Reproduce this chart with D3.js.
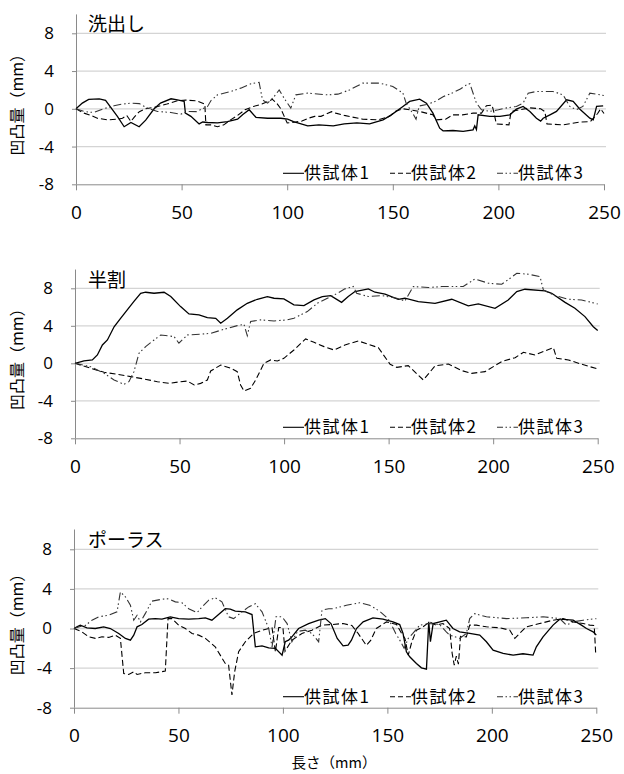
<!DOCTYPE html>
<html>
<head>
<meta charset="utf-8">
<script src="https://cdn.jsdelivr.net/npm/d3@7"></script>
<style>
  body { margin: 0; background: #fff; }
  svg text { font-family: "Open Sans", "Noto Sans CJK JP", sans-serif; fill: #000; }
  .jp { font-family: "Noto Sans CJK JP", sans-serif; }
</style>
</head>
<body>
<div id="chart"></div>
<script>
// x ticks / y ticks shared by all panels
var xTicks = [0, 50, 100, 150, 200, 250];
var yTicks = [-8, -4, 0, 4, 8];
var gridTicks = [-4, 0, 4, 8];
var seriesNames = ["供試体1", "供試体2", "供試体3"];
var panelTitles = ["洗出し", "半割", "ポーラス"];

// 洗出し  [長さ, 凹凸量]
var wash1 = [[0,0],[3,0.6],[6,1.0],[11,1.05],[14,0.9],[19.6,-0.8],[22.8,-1.9],[26,-1.45],[29.9,-1.9],[33,-1.2],[37,0],[40,0.6],[45,1.06],[48,0.95],[51.2,0.8],[51.8,-0.45],[54.4,-0.8],[58.3,-1.6],[60,-1.4],[62.3,-1.45],[67,-1.5],[71.7,-1.35],[76.5,-1.1],[79,-0.6],[82,-0.1],[85.2,-0.9],[90.7,-1.0],[97,-1.0],[100.2,-1.1],[103,-1.35],[109.7,-1.8],[115,-1.7],[121.8,-1.8],[127,-1.6],[133,-1.5],[139,-1.59],[145.4,-1.17],[149.3,-0.64],[154.8,0.25],[158,0.78],[162.7,1.02],[165.9,0.6],[169,-0.46],[172.2,-2.05],[173.8,-2.33],[178.5,-2.3],[183.3,-2.4],[188,-2.23],[188.8,-1.8],[189.6,-2.2],[190.4,-0.64],[195.9,-0.81],[200.7,-0.81],[205.4,-0.64],[208.5,-0.04],[211.7,0.25],[214.9,-0.28],[218,-1.0],[220,-1.3],[221.2,-1.0],[224.4,-0.64],[227.5,-0.28],[232.3,0.95],[235.4,0.78],[238.6,-0.04],[243.3,-0.99],[244.9,-1.17],[246.5,0.25],[249.6,0.32]];
var wash2 = [[0,0],[3.8,-0.46],[7,-0.7],[10.1,-1.0],[14.9,-1.17],[19.6,-1.1],[22,-1.0],[24,-0.7],[26,-1.34],[27.5,-0.9],[30,-0.3],[33,0],[38,0.2],[43,0.5],[48,0.85],[52,0.92],[57,0.85],[61,0.5],[61.5,-1.7],[64,-1.7],[67,-1.9],[70,-1.7],[73,-1.2],[76.5,-0.7],[80,-0.1],[84,0.25],[88,0.5],[91,0.78],[93,1.0],[95,0.6],[97,0],[98.6,-0.8],[100,-1.5],[104,-1.4],[107,-1.3],[110,-1.0],[113,-0.8],[116,-0.8],[119,-0.5],[121,-0.3],[123,-0.46],[127,-0.7],[135.8,-1.1],[143,-1.17],[148.5,-0.8],[151,-0.3],[154.8,0.0],[158,-0.1],[162.7,-0.28],[169,-0.64],[170.6,-1.17],[175,-1.1],[178.5,-0.64],[183,-0.64],[188,-0.46],[192,-0.46],[194.3,0.32],[197,0.4],[198,-0.5],[199,-1.6],[205,-1.7],[206,-0.3],[210,-0.1],[215,0.1],[220,0.0],[222,-0.3],[223,-1.6],[230.8,-1.7],[238.9,-1.4],[243.6,-1.35],[247,-0.5],[248.4,0.0],[250,-0.5]];
var wash3 = [[0,0],[4,-0.3],[8.5,-0.39],[13,0],[18,0.32],[22,0.5],[26,0.6],[30,0.55],[33.8,0.07],[38.6,-0.28],[44.9,-0.39],[49.6,-0.57],[52.8,-0.28],[57,-0.3],[62.3,0.25],[64,0.9],[67,1.48],[73.3,1.84],[78,2.19],[82.8,2.65],[86.7,2.8],[88.3,0.95],[90.7,0.6],[93.8,1.3],[96.2,2.0],[98.6,1.1],[101.7,0.07],[104.1,1.48],[109.7,1.66],[119.1,1.48],[124,1.55],[129.5,2.0],[135.8,2.72],[143.7,2.72],[150,2.37],[154.8,1.66],[156.3,0.6],[158,0.0],[159.5,-0.5],[161,-1.1],[162.5,0.3],[166,0.45],[170,0.78],[174,1.3],[178,1.66],[182,2.1],[184.9,2.54],[186.5,2.65],[189.6,0.6],[192,-0.1],[195.9,-0.28],[200,-0.1],[204,0.1],[208.5,0.25],[211.7,0.6],[214.1,1.66],[218,1.84],[225.9,1.84],[230.6,1.48],[233.8,0.25],[237,-0.1],[240,0.25],[243.3,1.66],[248.1,1.48],[250,1.4]];

// 半割
var half1 = [[0,0],[4.3,0.25],[8.3,0.36],[10.7,0.89],[13.1,1.96],[15.5,2.49],[18.7,3.9],[21.8,4.8],[25,5.7],[28.2,6.6],[31.4,7.47],[33.8,7.58],[37.8,7.47],[42.6,7.58],[45.8,7.12],[50.5,6.05],[54.5,5.27],[59.3,5.16],[63.3,4.88],[67.3,4.8],[69.7,4.27],[72.9,4.8],[77.6,5.7],[82.4,6.4],[87.2,6.83],[92,7.12],[95.2,6.94],[99.9,6.87],[104.7,6.23],[109.5,6.16],[114.3,6.76],[118.3,7.12],[122.3,7.22],[127.5,6.5],[130.7,7.12],[133.9,7.65],[140.3,7.94],[143.5,7.58],[148.3,7.37],[154.6,6.83],[157.8,6.94],[164.2,6.58],[172.2,6.4],[180.2,6.83],[188.1,6.12],[192.9,6.33],[200.9,5.87],[207.2,6.76],[211.3,7.65],[215.2,7.9],[224.8,7.72],[228,7.47],[234.4,6.5],[239.1,5.87],[243.9,4.98],[247.9,3.9],[250,3.49]];
var half2 = [[0,0],[7.5,-0.53],[13.9,-0.96],[20.2,-1.17],[26.6,-1.42],[33,-1.67],[39.4,-1.96],[45,-2.14],[50.5,-1.96],[53.7,-1.89],[57,-2.31],[60.1,-2.14],[63.3,-1.78],[64.9,-0.82],[69.7,-0.18],[74.5,-0.53],[77.6,-0.89],[79.2,-2.31],[80.8,-2.95],[84,-2.67],[86.4,-1.78],[90.4,0],[93.6,0.36],[96.8,0.25],[99.9,0.53],[104.7,1.42],[110.3,2.6],[114.3,2.24],[119.1,1.78],[123.9,1.42],[129.1,1.96],[135.5,2.38],[140.3,2.03],[145.1,1.67],[150.7,-0.1],[153.9,-0.43],[159.4,-0.25],[166.6,-1.78],[172.2,-0.28],[178.6,-0.07],[185,-0.78],[189.7,-1.07],[196.1,-0.89],[204.1,0.18],[210.5,0.6],[214.5,1.17],[220,0.89],[224,1.25],[228.8,1.67],[230.4,0.53],[236,0.36],[242.3,-0.1],[250,-0.6]];
var half3 = [[0,0],[7.5,-0.36],[13.9,-1.07],[18.7,-1.78],[23.4,-2.24],[25.8,-1.96],[28.2,-0.89],[30.6,1.07],[33.8,1.78],[37.8,2.49],[41,3.02],[47.4,2.85],[49.7,2.14],[53.7,3.02],[60.1,3.1],[64.9,3.2],[71.3,3.63],[77.6,4.02],[80.8,4.16],[82.4,2.95],[84,4.45],[88.8,4.63],[95.2,4.52],[101.5,4.63],[104.7,4.8],[111.1,5.52],[115.9,6.4],[120.7,6.94],[125.6,7.47],[129.1,7.94],[133.1,8.19],[134.7,7.47],[140.3,7.12],[146.7,7.22],[153.9,6.94],[157.8,6.65],[161.8,8.19],[169,8.08],[175.4,8.19],[185.7,8.19],[191.3,9.0],[197.7,8.54],[204.1,8.43],[208.1,9.07],[211.3,9.6],[216.9,9.5],[222.4,9.25],[224,7.83],[229.6,7.22],[236,6.83],[242.3,6.76],[250,6.33]];

// ポーラス
var porous1 = [[0,0],[1.4,0.17],[3,0.34],[6.2,0.07],[10.2,0],[14.2,0.17],[17.4,0],[21.4,-0.5],[24.6,-1.0],[27,-1.18],[28.6,-0.67],[30.2,0.17],[32.5,0.4],[35.7,0.94],[38.9,1.0],[42.1,0.94],[46.1,1.18],[50.1,1.0],[54.9,0.94],[59.7,1.0],[62.9,1.08],[66,0.84],[69.2,1.41],[72.4,2.0],[74.8,1.95],[77.2,1.75],[82,1.68],[85.2,1.41],[86.8,-1.85],[90,-1.75],[93.2,-1.95],[96.4,-2.0],[99.6,-2.7],[101.1,-1.34],[102.7,-1.18],[104.3,-0.84],[107.5,0],[112.3,0.5],[117.1,0.84],[120.3,1.0],[123,0.5],[126,-1.0],[128.8,-1.75],[131.2,-1.68],[132.8,-1.18],[135.2,0],[138.4,0.67],[143.1,1.08],[147.9,0.94],[152.7,0.67],[155.9,0.4],[157.5,-0.5],[159.1,-2.35],[160.7,-2.86],[163.9,-3.53],[166.3,-3.97],[168.7,-4.1],[169.8,0.67],[170.6,-1.34],[171.9,0.5],[175.1,0.67],[178.2,0.84],[181.4,0],[184.6,-0.34],[189.4,-0.5],[194.2,-0.67],[197.4,-1.34],[200.6,-2.18],[205.4,-2.52],[210.2,-2.69],[214.9,-2.55],[219.7,-2.69],[221.3,-1.85],[224.5,-0.84],[229.3,0.34],[232.5,0.94],[235.7,0.9],[238.9,0.84],[242.9,0.34],[245.3,0],[248.5,-0.34],[250,-0.67]];
var porous2 = [[0,0],[3.8,-0.34],[7,-0.84],[10.2,-1.0],[13.4,-0.84],[16.6,-0.9],[19.8,-0.67],[22.2,-1.0],[23.8,-4.54],[26.2,-4.64],[28.6,-4.37],[30.2,-4.64],[34.1,-4.47],[39,-4.47],[43.7,-4.3],[45,1.0],[46.9,1.0],[50.1,0.34],[53.3,0],[56.5,-0.5],[59.7,-0.67],[62.9,-1.0],[67.6,-1.85],[70,-2.69],[72.4,-3.53],[74,-3.7],[75.6,-6.72],[76.9,-4.37],[78.8,-2.35],[82,-1.34],[86,-0.5],[90,-0.17],[94.8,0.07],[96.4,-2.35],[98,0.1],[100,0.1],[101,-2.3],[104.3,-1.18],[109.1,-0.5],[113.9,-0.17],[118.7,0.34],[123.5,0.4],[128.8,0.5],[133,0.3],[136,-0.5],[139.9,-1.7],[142,-1.2],[144.7,0.0],[149.6,0.67],[154.4,0.4],[156.8,-0.5],[158.4,-1.0],[160,-2.69],[161.7,-1.34],[163.9,-0.17],[167.1,0.17],[170.2,0.67],[173.4,0.34],[176.6,0.5],[179.8,0.0],[181,-2.5],[182,-3.7],[183,-2.8],[184,-3.6],[185,-0.8],[187.8,-0.84],[189.4,0.34],[192.6,0.34],[197.4,0.17],[203.8,0.07],[208.6,-0.17],[211,-1.0],[213.3,-0.5],[216.5,0.17],[222.9,0.5],[229.3,0.84],[234.1,1.0],[238.9,0.67],[243.7,0.5],[246.9,0.34],[249,0.3],[249.7,-2.5],[250,-2.6]];
var porous3 = [[0,0],[3,0.2],[5.4,0.3],[8.6,0.84],[11.8,1.18],[16.6,1.34],[20.6,1.68],[22.2,3.7],[24.6,3.2],[27,2.35],[28.6,0.84],[30.2,1.34],[31.8,0.67],[34.1,1.5],[37.3,2.76],[42.1,2.96],[45.3,3.0],[48.5,2.69],[51.7,2.6],[54.9,2.0],[58.9,1.6],[61.3,2.18],[64.5,2.86],[67.6,3.1],[70.8,2.69],[74,1.18],[76.4,1.0],[80.4,1.68],[83.6,2.18],[86.8,2.5],[90,1.68],[93.2,0],[94.8,-1.85],[96.7,1.18],[99.6,1.18],[102,0.5],[104.3,-1.34],[107,-0.3],[110.7,-0.17],[113.9,-0.5],[117.1,-1.34],[118.7,1.85],[121.9,2.0],[124,2.0],[130.4,2.35],[136.8,2.6],[141.5,2.35],[146.3,1.75],[150.3,1.0],[151.9,0.4],[154,-0.5],[156,-1.2],[158,-2.0],[160,-1.0],[162.2,-0.5],[165.5,0.34],[170,0.5],[175,0.4],[178.2,-0.34],[179.8,-0.67],[184.6,-1.0],[187.8,-0.5],[189.4,1.0],[191.8,1.5],[197.4,1.18],[207,1.0],[216.5,1.08],[224.5,1.18],[232.5,1.0],[235.7,0.34],[238.9,0.67],[243.7,0.84],[250,1.0]];

var width = 624, height = 774;
var dashes = [null, "6,3", "8,3,1.5,2.5,1.5,3"];

var svg = d3.select("#chart").append("svg")
    .attr("width", width)
    .attr("height", height);

// plot frames: left/right = x 0..250, y8 / bottom = values 8 and -8
var panels = [
    {title: panelTitles[0], series: [wash1, wash2, wash3], left: 76, right: 604, y8: 33.3, bottom: 184.3},
    {title: panelTitles[1], series: [half1, half2, half3], left: 75, right: 597.7, y8: 288.3, bottom: 438.3},
    {title: panelTitles[2], series: [porous1, porous2, porous3], left: 74, right: 596.3, y8: 549.3, bottom: 707.7}
];

panels.forEach(function(p) {
    var x = d3.scaleLinear().domain([0, 250]).range([p.left, p.right]);
    var unit = (p.bottom - p.y8) / 16;
    var y = d3.scaleLinear().domain([-8, 10]).range([p.bottom, p.y8 - 2 * unit]);
    var g = svg.append("g");

    // gridlines
    g.selectAll(".grid").data(gridTicks).enter().append("line")
        .attr("x1", p.left).attr("x2", p.right + 2)
        .attr("y1", d => y(d)).attr("y2", d => y(d))
        .attr("stroke", "#d4d4d4").attr("stroke-width", 1.3);

    // y axis (plain hyphen for negatives like the original)
    var yAxis = g.append("g")
        .attr("transform", `translate(${p.left},0)`)
        .call(d3.axisLeft(y).tickValues(yTicks).tickFormat(d => String(d))
            .tickSize(4).tickPadding(18).tickSizeOuter(0));
    yAxis.select(".domain").attr("stroke", "#8a8a8a").attr("d", `M0.5,${y(10)}V${y(-8)}`);
    yAxis.selectAll(".tick line").attr("stroke", "#8a8a8a");
    yAxis.selectAll("text").style("font-size", "17px");

    // x axis
    var xAxis = g.append("g")
        .attr("transform", `translate(0,${p.bottom})`)
        .call(d3.axisBottom(x).tickValues(xTicks).tickSize(6).tickPadding(15).tickSizeOuter(0));
    xAxis.select(".domain").attr("stroke", "#8a8a8a");
    xAxis.selectAll(".tick line").attr("stroke", "#8a8a8a");
    xAxis.selectAll("text").style("font-size", "19px");

    // y title
    g.append("text")
        .attr("class", "jp")
        .attr("transform", `translate(23,${y(0) - 8}) rotate(-90)`)
        .attr("text-anchor", "middle")
        .style("font-size", "16px")
        .text("凹凸量（mm）");

    // panel title
    g.append("text")
        .attr("class", "jp")
        .attr("x", 88).attr("y", y(10) + 17)
        .style("font-size", "19px")
        .text(p.title);

    // lines
    var line = d3.line().x(d => x(d[0])).y(d => y(d[1]));
    p.series.forEach(function(s, i) {
        g.append("path")
            .datum(s)
            .attr("d", line)
            .attr("fill", "none")
            .attr("stroke", i == 2 ? "#333" : "#000")
            .attr("stroke-width", i == 0 ? 1.3 : 1.1)
            .attr("stroke-dasharray", dashes[i]);
    });

    // legend
    var legX = [283, 390, 497];
    var legY = p.bottom - 11;
    seriesNames.forEach(function(name, i) {
        g.append("line")
            .attr("x1", legX[i]).attr("x2", legX[i] + 21)
            .attr("y1", legY).attr("y2", legY)
            .attr("stroke", i == 2 ? "#333" : "#000")
            .attr("stroke-width", 1.1)
            .attr("stroke-dasharray", i == 1 ? "5,3" : i == 2 ? "6,2.5,1.5,2.5,1.5,2.5" : null);
        g.append("text")
            .attr("class", "jp")
            .attr("x", legX[i] + 21).attr("y", legY)
            .attr("dy", "0.35em")
            .style("font-size", "17px")
            .style("letter-spacing", "1.5px")
            .text(name);
    });
});

// x title
svg.append("text")
    .attr("class", "jp")
    .attr("x", 334).attr("y", 768)
    .attr("text-anchor", "middle")
    .style("font-size", "14.5px")
    .text("長さ（mm）");
</script>
</body>
</html>
